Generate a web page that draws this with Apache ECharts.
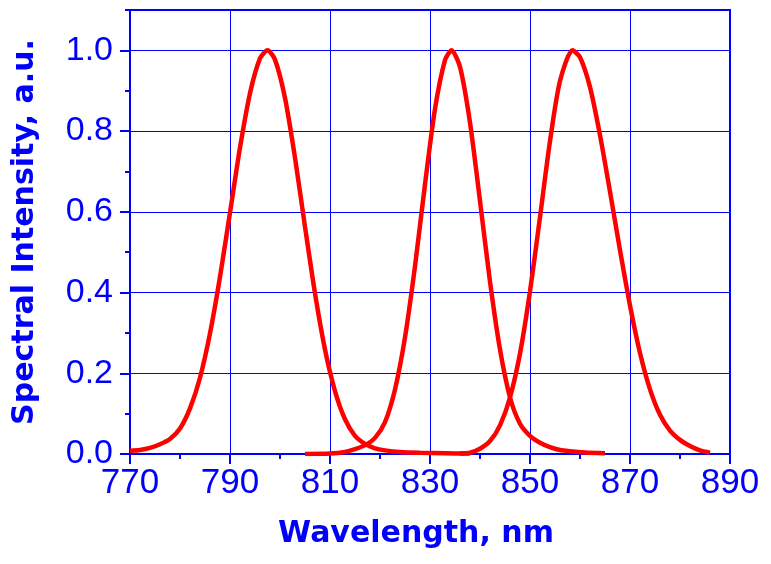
<!DOCTYPE html>
<html>
<head>
<meta charset="utf-8">
<script src="https://cdn.jsdelivr.net/npm/echarts@6/dist/echarts.min.js"></script>
<style>
html,body{margin:0;padding:0;background:#fff;}
#chart{width:771px;height:564px;}
</style>
</head>
<body>
<div id="chart"></div>
<script>
// Peak 1 (~797 nm)
const wavelengthA = [770,772,774,776,778,780,782,784,786,788,790,792,794,796,797.5,799,801,803,805,807,809,811,813,815,817,819,821,824,828,833,838];
const intensityA  = [0.008,0.010,0.015,0.024,0.037,0.063,0.113,0.189,0.299,0.439,0.598,0.759,0.894,0.980,1.0,0.977,0.882,0.734,0.563,0.398,0.259,0.156,0.086,0.045,0.025,0.014,0.009,0.005,0.003,0.002,0.001];
// Peak 2 (~834 nm)
const wavelengthB = [805,810,813,815,817,819,821,823,825,827,829,831,833,834.3,836,838,840,842,844,846,848,850,852,854,856,858,861,865];
const intensityB  = [0.000,0.001,0.005,0.012,0.022,0.040,0.079,0.160,0.289,0.465,0.668,0.855,0.976,1.0,0.959,0.821,0.627,0.427,0.259,0.140,0.075,0.045,0.028,0.017,0.010,0.007,0.004,0.002];
// Peak 3 (~858 nm)
const wavelengthC = [836,838,840,842,844,846,848,850,852,854,856,858.5,860,862,864,866,868,870,872,874,876,878,880,882,884,886];
const intensityC  = [0.001,0.003,0.013,0.032,0.071,0.140,0.249,0.403,0.587,0.775,0.924,1.0,0.983,0.909,0.790,0.650,0.505,0.368,0.250,0.160,0.097,0.058,0.035,0.020,0.009,0.003];

const xTicks = [770,790,810,830,850,870,890];
const xMinorTicks = [780,800,820,840,860,880];
const yTicks = [0, 0.2, 0.4, 0.6, 0.8, 1.0];
const yMinorTicks = [0.1, 0.3, 0.5, 0.7, 0.9, 1.1];
const xRange = [770, 890];
const yRange = [0, 1.1];
const xTitle = 'Wavelength, nm';
const yTitle = 'Spectral Intensity, a.u.';

const BLUE = '#0000ff';
const RED = '#ff0000';

function zip(xs, ys){ return xs.map((x,i)=>[x, ys[i]]); }

const chart = echarts.init(document.getElementById('chart'), null, {renderer:'canvas'});
const lineSeries = (xs, ys) => ({
  type:'line', xAxisIndex:0, yAxisIndex:0,
  data: zip(xs, ys), showSymbol:false, smooth:0.25,
  lineStyle:{color:RED, width:4.5}, itemStyle:{color:RED}, z:5
});

chart.setOption({
  animation:false,
  backgroundColor:'#ffffff',
  grid:{left:130, right:41, top:10, bottom:110, show:true, borderColor:BLUE, borderWidth:2, backgroundColor:'transparent'},
  xAxis:[{
    type:'value', min:xRange[0], max:xRange[1], position:'bottom',
    name:xTitle, nameLocation:'middle', nameGap:65,
    nameTextStyle:{fontFamily:'DejaVu Sans', fontWeight:'bold', fontSize:30, color:BLUE, padding:[0,28,0,0]},
    axisLine:{show:true, lineStyle:{color:BLUE, width:2}},
    axisTick:{show:true, inside:false, length:10, lineStyle:{color:BLUE, width:2}, customValues:xTicks},
    axisLabel:{show:true, customValues:xTicks, margin:12, fontFamily:'Liberation Sans', fontSize:35, color:BLUE},
    splitLine:{show:true, lineStyle:{color:BLUE, width:1}}
  },{
    type:'value', min:xRange[0], max:xRange[1], position:'bottom',
    axisLine:{show:false},
    axisTick:{show:true, inside:false, length:5, lineStyle:{color:BLUE, width:2}, customValues:xMinorTicks},
    axisLabel:{show:false},
    splitLine:{show:false}
  }],
  yAxis:[{
    type:'value', min:yRange[0], max:yRange[1], position:'left',
    name:yTitle, nameLocation:'middle', nameGap:90, nameRotate:90,
    nameTextStyle:{fontFamily:'DejaVu Sans', fontWeight:'bold', fontSize:30, color:BLUE},
    axisLine:{show:true, lineStyle:{color:BLUE, width:2}},
    axisTick:{show:true, inside:false, length:10, lineStyle:{color:BLUE, width:2}, customValues:yTicks},
    axisLabel:{show:true, customValues:yTicks, margin:17, fontFamily:'Liberation Sans', fontSize:34, color:BLUE,
      formatter:(v)=>Number(v).toFixed(1)},
    splitLine:{show:true, lineStyle:{color:BLUE, width:1}}
  },{
    type:'value', min:yRange[0], max:yRange[1], position:'left',
    axisLine:{show:false},
    axisTick:{show:true, inside:false, length:5, lineStyle:{color:BLUE, width:2}, customValues:yMinorTicks},
    axisLabel:{show:false},
    splitLine:{show:false}
  }],
  series:[
    lineSeries(wavelengthA, intensityA),
    lineSeries(wavelengthB, intensityB),
    lineSeries(wavelengthC, intensityC)
  ]
});
</script>
</body>
</html>
